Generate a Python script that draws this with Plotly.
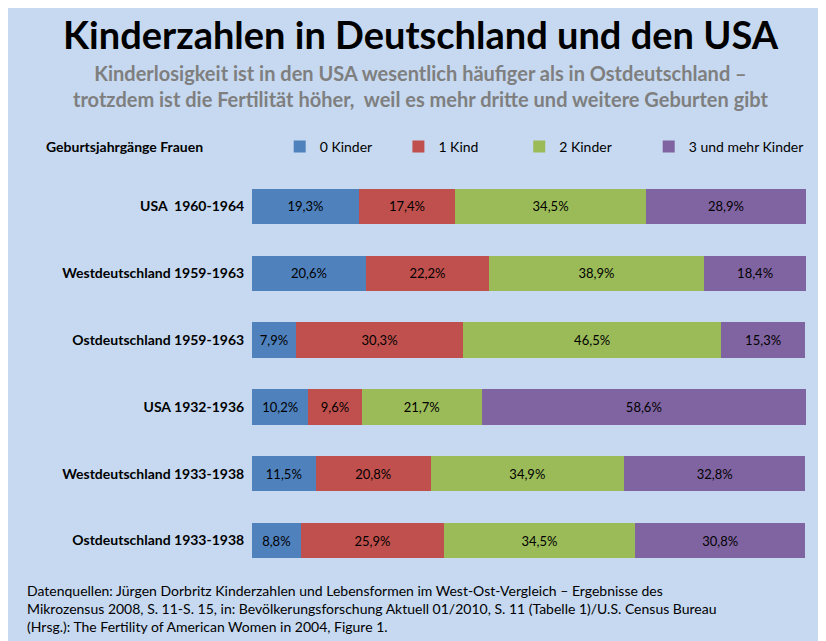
import plotly.graph_objects as go

groups = ["USA  1960-1964", "Westdeutschland 1959-1963", "Ostdeutschland 1959-1963",
          "USA 1932-1936", "Westdeutschland 1933-1938", "Ostdeutschland 1933-1938"]
series = ["0 Kinder", "1 Kind", "2 Kinder", "3 und mehr Kinder"]
kids0 = [19.3, 20.6, 7.9, 10.2, 11.5, 8.8]
kids1 = [17.4, 22.2, 30.3, 9.6, 20.8, 25.9]
kids2 = [34.5, 38.9, 46.5, 21.7, 34.9, 34.5]
kids3 = [28.9, 18.4, 15.3, 58.6, 32.8, 30.8]
colors = ["#4f81bd", "#c0504d", "#9bbb59", "#8064a2"]
# padding so the legend entries sit at the reference spacing
legend_pad = [6, 10, 9, 0]

fig = go.Figure()
for name, vals, col, pad in zip(series, [kids0, kids1, kids2, kids3], colors, legend_pad):
    fig.add_trace(go.Bar(
        y=groups, x=vals, name=name + "&nbsp;" * pad, orientation="h",
        marker=dict(color=col, line=dict(width=0)),
        text=[f"{v:.1f}%".replace(".", ",") for v in vals],
        textposition="inside", insidetextanchor="middle",
        textfont=dict(color="black", size=13),
        hovertemplate=f"%{{y}}<br>{name}: %{{text}}<extra></extra>",
    ))

fig.update_layout(
    barmode="stack", bargap=0.47,
    width=826, height=641,
    paper_bgcolor="#c6d9f1", plot_bgcolor="#c6d9f1",
    font=dict(family="Lato, Open Sans, sans-serif", color="black"),
    margin=dict(l=244, r=28, t=165, b=75),
    showlegend=True,
    legend=dict(orientation="h", x=0.05, y=1.025, xanchor="left", yanchor="bottom",
                traceorder="normal", font=dict(size=14), bgcolor="rgba(0,0,0,0)", itemwidth=30),
    uniformtext=dict(minsize=10, mode="show"),
)
fig.update_xaxes(range=[0, 100.1], visible=False, fixedrange=True)
fig.update_yaxes(autorange="reversed", ticks="", showline=False, showgrid=False, automargin=False,
                 tickfont=dict(size=14, color="black", weight="bold"), ticksuffix="  ")

fig.add_annotation(text="<b>Kinderzahlen in Deutschland und den USA</b>", xref="paper", yref="paper",
                   x=0.5, y=1.0, xanchor="center", yanchor="top", showarrow=False,
                   font=dict(size=38, color="black"), yshift=164, xshift=-108)
fig.add_annotation(text="<b>Kinderlosigkeit ist in den USA wesentlich häufiger als in Ostdeutschland –<br>"
                        "trotzdem ist die Fertilität höher,  weil es mehr dritte und weitere Geburten gibt</b>",
                   xref="paper", yref="paper", x=0.5, y=1.0, xanchor="center", yanchor="top",
                   showarrow=False, font=dict(size=20, color="#7f7f7f"), yshift=114, xshift=-108,
                   align="center")
fig.add_annotation(text="<b>Geburtsjahrgänge Frauen</b>", xref="paper", yref="paper",
                   x=-0.375, y=1.0, xanchor="left", yanchor="middle", showarrow=False,
                   font=dict(size=14), yshift=27)
fig.add_annotation(text="Datenquellen: Jürgen Dorbritz Kinderzahlen und Lebensformen im West-Ost-Vergleich – Ergebnisse des<br>"
                        "Mikrozensus 2008, S. 11-S. 15, in: Bevölkerungsforschung Aktuell 01/2010, S. 11 (Tabelle 1)/U.S. Census Bureau<br>"
                        "(Hrsg.): The Fertility of American Women in 2004, Figure 1.",
                   xref="paper", yref="paper", x=-0.41, y=0, xanchor="left", yanchor="top",
                   showarrow=False, align="left", font=dict(size=14), yshift=-6)

fig.write_html("out.html")
